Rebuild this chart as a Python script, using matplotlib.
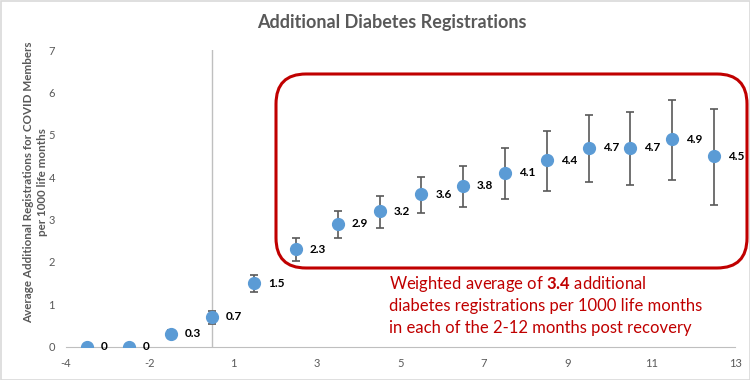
import numpy as np
import matplotlib
matplotlib.use("Agg")
import matplotlib.pyplot as plt
from matplotlib.patches import FancyBboxPatch, Rectangle
from matplotlib.transforms import IdentityTransform

plt.rcParams['font.family'] = ['Lato', 'DejaVu Sans']
plt.rcParams['mathtext.fontset'] = 'custom'
plt.rcParams['mathtext.bf'] = 'Lato:bold'
plt.rcParams['mathtext.rm'] = 'Lato'

# months relative to recovery
months = [-3, -2, -1, 0, 1, 2, 3, 4, 5, 6, 7, 8, 9, 10, 11, 12]
values = [0, 0, 0.3, 0.7, 1.5, 2.3, 2.9, 3.2, 3.6, 3.8, 4.1, 4.4, 4.7, 4.7, 4.9, 4.5]
err_low = [0, 0, 0.1, 0.16, 0.22, 0.28, 0.34, 0.39, 0.45, 0.5, 0.62, 0.72, 0.81, 0.89, 0.97, 1.15]
err_high = [0, 0, 0.09, 0.15, 0.19, 0.27, 0.31, 0.36, 0.4, 0.47, 0.59, 0.68, 0.78, 0.84, 0.93, 1.11]
label_texts = ["0", "0", "0.3", "0.7", "1.5", "2.3", "2.9", "3.2", "3.6", "3.8", "4.1", "4.4", "4.7", "4.7", "4.9", "4.5"]

xtick_pos = [-3.5, -1.5, 0.5, 2.5, 4.5, 6.5, 8.5, 10.5, 12.5]
xtick_labels = ["-4", "-2", "1", "3", "5", "7", "9", "11", "13"]
yticks = [0, 1, 2, 3, 4, 5, 6, 7]

grey = "#595959"
blue = "#5B9BD5"
red = "#C00000"

fig = plt.figure(figsize=(7.5, 3.8), dpi=100)
ax = fig.add_axes([0.088, 0.088, 0.892, 0.78])

ax.errorbar(months, values, yerr=[err_low, err_high], fmt='none',
            ecolor=grey, elinewidth=1.2, capsize=3, capthick=1.2, zorder=2)
ax.plot(months, values, 'o', color=blue, markersize=8.5, zorder=3)

for m, v, t in zip(months, values, label_texts):
    ax.annotate(t, (m, v), xytext=(10, 0), textcoords='offset points',
                va='center', ha='left', fontsize=8.5, fontweight='bold', color='black')

ax.set_xlim(-3.5, 12.5)
ax.set_ylim(0, 7)
ax.set_xticks(xtick_pos)
ax.set_xticklabels(xtick_labels)
ax.set_yticks(yticks)
ax.tick_params(length=0, labelsize=8, colors=grey, pad=8)

for s in ['top', 'right', 'left']:
    ax.spines[s].set_visible(False)
ax.spines['bottom'].set_color("#BFBFBF")
ax.spines['bottom'].set_position(('data', 0))
ax.axvline(0, color="#BFBFBF", lw=1, zorder=1)

fig.text(0.523, 0.942, "Additional Diabetes Registrations", ha='center', va='center',
         fontsize=13, fontweight='bold', color=grey)
fig.text(0.047, 0.52, "Average Additional Registrations for COVID Members\nper 1000 life months",
         rotation=90, ha='center', va='center', fontsize=8.4, fontweight='bold',
         color=grey, multialignment='center', linespacing=1.3)

# red rounded callout box (pixel coordinates)
box = FancyBboxPatch((276, 380 - 268), 471, 194,
                     boxstyle="round,pad=0,rounding_size=30",
                     transform=IdentityTransform(), fill=False,
                     edgecolor=red, linewidth=2.2, zorder=5)
fig.patches.append(box)

fig.text(0.519, 0.252, "Weighted average of $\\mathbf{3.4}$ additional", ha='left', va='center',
         fontsize=12, color=red)
fig.text(0.519, 0.194, "diabetes registrations per 1000 life months", ha='left', va='center',
         fontsize=12, color=red)
fig.text(0.519, 0.136, "in each of the 2-12 months post recovery", ha='left', va='center',
         fontsize=12, color=red)

fig.patches.append(Rectangle((0.5, 0.5), 749, 379, transform=IdentityTransform(),
                             fill=False, edgecolor="#D9D9D9", linewidth=1.2))

fig.savefig("out.png", dpi=100)
